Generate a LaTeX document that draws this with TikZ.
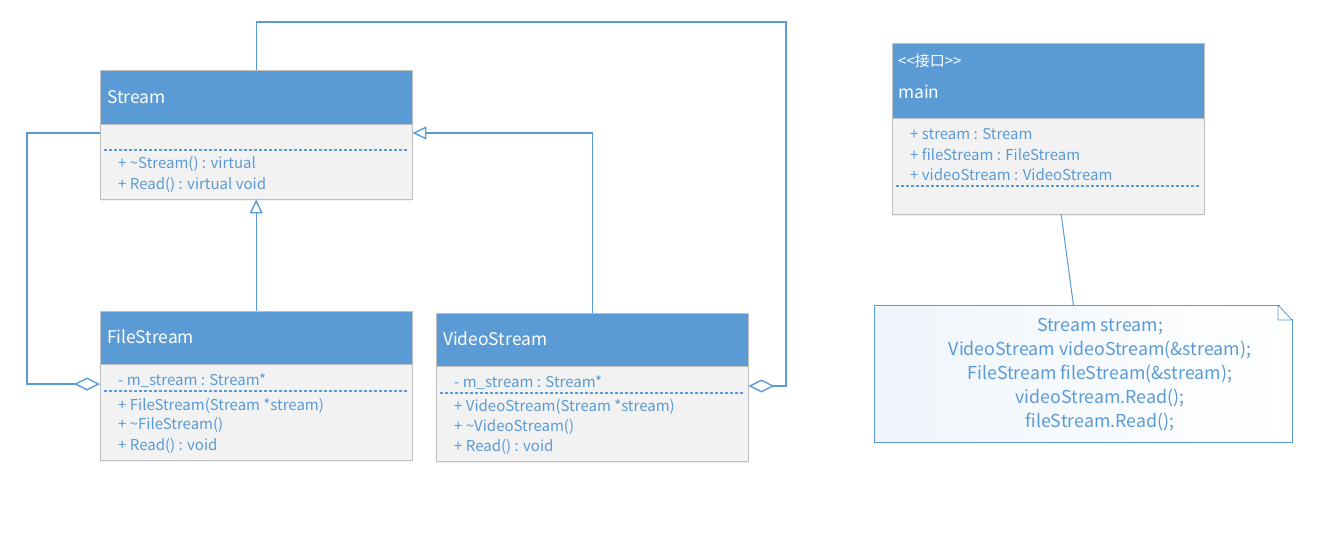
\documentclass[tikz,border=0pt]{standalone}
\usepackage{fontspec}
\setmainfont{Noto Sans CJK SC}
\usetikzlibrary{arrows.meta,shadows}
\definecolor{umlblue}{HTML}{5B9BD5}
\definecolor{umlgray}{HTML}{F2F2F2}
\definecolor{umledge}{HTML}{BFBFBF}
\definecolor{umltext}{HTML}{5B9BD5}
\tikzset{
  classhead/.style={draw=umledge, fill=umlblue, minimum width=312pt, anchor=north west, inner sep=0pt},
  classbody/.style={draw=umledge, fill=umlgray, minimum width=312pt, anchor=north west, inner sep=0pt,
    drop shadow={opacity=0.12, shadow xshift=0pt, shadow yshift=-2pt}},
  classname/.style={anchor=west, inner sep=0pt, text=white, font=\fontsize{17.4}{19}\selectfont},
  member/.style={anchor=west, inner sep=0pt, yshift=-2pt, text=umltext, font=\fontsize{15}{17}\selectfont},
  sep/.style={umlblue, dashed, dash pattern=on 3pt off 2pt, line width=1.2pt},
  link/.style={umlblue, line width=1.4pt},
  inherit/.style={link, -{Triangle[open, length=14pt, width=13pt, fill=white]}},
  aggregate/.style={link, -{Diamond[open, length=26pt, width=13pt, fill=white]}},
}
\begin{document}
\begin{tikzpicture}[x=1pt,y=-1pt]
  \useasboundingbox (0,0) rectangle (1337,548);
  % Stream
  \node[classbody, minimum height=75pt] (streambody) at (100,124) {};
  \node[classhead, minimum height=54pt] (stream) at (100,70) {};
  \node[classname] (streamname) at (107,97) {Stream};
  \draw[sep] (104,150) -- (408,150);
  \node[member] (s1) at (118,162) {+ \textasciitilde Stream() : virtual};
  \node[member] (s2) at (118,183) {+ Read() : virtual void};
  % FileStream
  \node[classbody, minimum height=96pt] (filebody) at (100,364) {};
  \node[classhead, minimum height=53pt] (file) at (100,311) {};
  \node[classname] (filename) at (107,337) {FileStream};
  \node[member] (f0) at (118,379) {- m\_stream : Stream*};
  \draw[sep] (104,391) -- (408,391);
  \node[member] (f1) at (118,404) {+ FileStream(Stream *stream)};
  \node[member] (f2) at (118,423) {+ \textasciitilde FileStream()};
  \node[member] (f3) at (118,444) {+ Read() : void};
  % VideoStream
  \node[classbody, minimum height=95pt] (videobody) at (436,366) {};
  \node[classhead, minimum height=53pt] (video) at (436,313) {};
  \node[classname] (videoname) at (443,339) {VideoStream};
  \node[member] (v0) at (454,381) {- m\_stream : Stream*};
  \draw[sep] (440,393) -- (744,393);
  \node[member] (v1) at (454,405) {+ VideoStream(Stream *stream)};
  \node[member] (v2) at (454,425) {+ \textasciitilde VideoStream()};
  \node[member] (v3) at (454,445) {+ Read() : void};
  % main
  \node[classbody, minimum height=96pt] (mainbody) at (892,118) {};
  \node[classhead, minimum height=75pt] (main) at (892,43) {};
  \node[classname, font=\fontsize{15}{17}\selectfont] (mainstereo) at (898,61) {{<}{<}接口{>}{>}};
  \node[classname] (mainname) at (898,92) {main};
  \node[member] (m1) at (910,132) {+ stream : Stream};
  \node[member] (m2) at (910,153) {+ fileStream : FileStream};
  \node[member] (m3) at (910,173) {+ videoStream : VideoStream};
  \draw[sep] (896,186) -- (1200,186);
  % note
  \node[draw=umlblue, line width=0.8pt, shading=axis, shading angle=120, left color=umlblue!10, right color=white,
    minimum width=418pt, minimum height=137pt, anchor=north west, inner sep=0pt] (note) at (874,305) {};
  \fill[white] (1278.5,304) -- (1293,304) -- (1293,319.5) -- cycle;
  \draw[umlblue, line width=0.8pt] (1278,305) -- (1292,320) (1278,305) -- (1278,320) -- (1292,320);
  \node[text=umltext, align=center, inner sep=0pt, font=\fontsize{17.8}{24}\selectfont] (notetext) at (1100,375)
    {Stream stream;\\ VideoStream videoStream(\&stream);\\ FileStream fileStream(\&stream);\\
     videoStream.Read();\\ fileStream.Read();};
  % connectors
  \draw[inherit] (file.north) -- (streambody.south);
  \draw[inherit] (video.north) |- ([yshift=-9pt]streambody.north east);
  \draw[aggregate] ([yshift=-9pt]streambody.north west) -- ++(-73pt,0) |- ([yshift=-20pt]filebody.north west);
  \draw[aggregate] (stream.north) -- ++(0,48pt) -| (786,22) |- ([yshift=-20pt]videobody.north east);
  \draw[link, line width=1pt] ([xshift=13pt]mainbody.south) -- ([xshift=-10pt]note.north);
\end{tikzpicture}
\end{document}
